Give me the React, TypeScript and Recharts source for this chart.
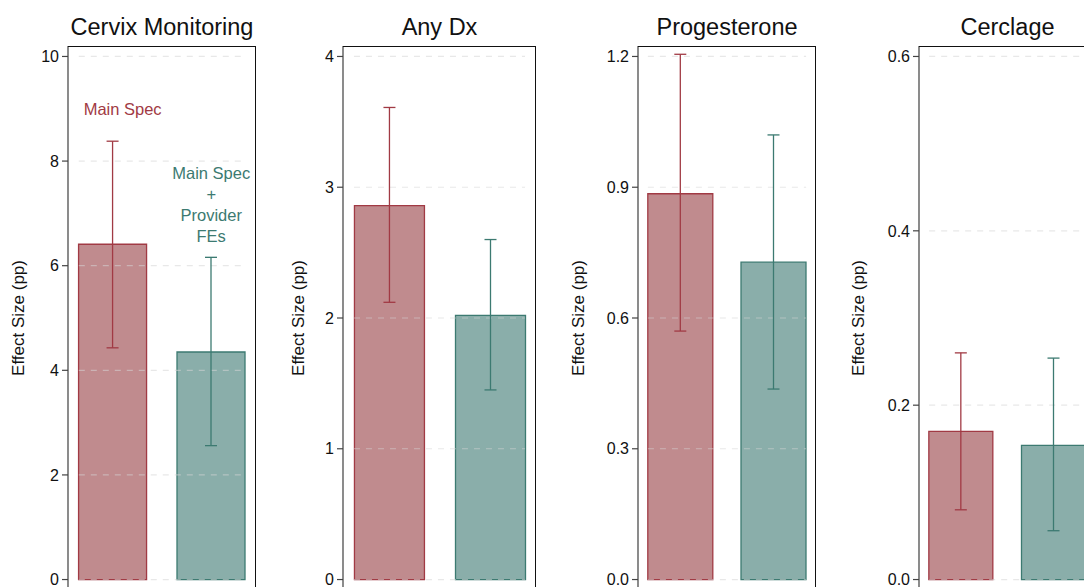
import { BarChart, Bar, XAxis, YAxis, ErrorBar, Cell, ReferenceLine, ReferenceDot } from "recharts";

// outcomes shown left to right
const outcomes = ["Cervix Monitoring", "Any Dx", "Progesterone", "Cerclage"];

// point estimates with 95% CI bounds (pp)
const mainEst = [6.41, 2.86, 0.885, 0.17];
const mainLo = [4.43, 2.12, 0.57, 0.08];
const mainHi = [8.38, 3.61, 1.205, 0.26];
const feEst = [4.35, 2.02, 0.728, 0.154];
const feLo = [2.56, 1.45, 0.437, 0.056];
const feHi = [6.16, 2.6, 1.02, 0.254];

const yTicks = [
  [0, 2, 4, 6, 8, 10],
  [0, 1, 2, 3, 4],
  [0, 0.3, 0.6, 0.9, 1.2],
  [0, 0.2, 0.4, 0.6],
];
const tickDecimals = [0, 0, 1, 1];

// spec labels, only drawn on the first panel
const mainLabel = ["Main Spec"];
const feLabel = ["Main Spec", "+", "Provider", "FEs"];

const RED = "#a13a44";
const RED_FILL = "#c08b8e";
const TEAL = "#3c7a71";
const TEAL_FILL = "#8aaeaa";
const FONT = "'Liberation Sans', Arial, Helvetica, sans-serif";

const W = 280;
const H = 600;
const TOP = 46;
const RIGHT = 24;
const PLOT_H = 544;
const axisWidths = [68, 63, 78, 79];
const X_DOMAIN: [number, number] = [0.545, 2.455];

function specText(lines: string[], color: string) {
  return (p: any) => {
    const vb = p.viewBox || {};
    const cx = (vb.x ?? 0) + (vb.width ?? 0) / 2;
    const cy = (vb.y ?? 0) + (vb.height ?? 0) / 2;
    return (
      <text x={cx} y={cy} textAnchor="middle" fill={color} fontSize={16.5} fontFamily={FONT}>
        {lines.map((l, k) => (
          <tspan key={k} x={cx} dy={k === 0 ? 6 : 20.8}>
            {l}
          </tspan>
        ))}
      </text>
    );
  };
}

function Panel({ i }: { i: number }) {
  const left = axisWidths[i];
  const plotW = W - left - RIGHT;
  const ticks = yTicks[i];
  const max = ticks[ticks.length - 1];
  const pad = max * 0.02;
  const pxPerUnit = plotW / (X_DOMAIN[1] - X_DOMAIN[0]);
  const barSize = Math.round(plotW * 0.363);
  const half = barSize / 2 / pxPerUnit;

  const data = [
    { x: 1, v: mainEst[i], errMain: [mainEst[i] - mainLo[i], mainHi[i] - mainEst[i]] },
    { x: 2, v: feEst[i], errFe: [feEst[i] - feLo[i], feHi[i] - feEst[i]] },
  ];

  return (
    <div style={{ position: "absolute", left: i * W, top: 0, width: W, height: H }}>
      <div
        style={{
          position: "absolute",
          left,
          width: plotW,
          top: 16,
          fontSize: 23.5,
          lineHeight: "23px",
          textAlign: "center",
          color: "#111",
          whiteSpace: "nowrap",
        }}
      >
        {outcomes[i]}
      </div>
      <BarChart width={W} height={H} data={data} margin={{ top: TOP, right: RIGHT, bottom: H - TOP - PLOT_H, left: 0 }}>
        <XAxis type="number" dataKey="x" domain={X_DOMAIN} hide />
        <YAxis
          type="number"
          width={left}
          domain={[-pad, max + pad]}
          ticks={ticks}
          allowDataOverflow
          tickFormatter={(t: number) => t.toFixed(tickDecimals[i])}
          tick={{ fill: "#111", fontSize: 16 }}
          tickSize={6}
          tickMargin={3}
          tickLine={{ stroke: "#444", strokeWidth: 1.2 }}
          axisLine={{ stroke: "#6f6f6f", strokeWidth: 1.6 }}
          label={{
            content: () => (
              <text x={24} y={318} transform="rotate(-90 24 318)" textAnchor="middle" fill="#111" fontSize={17} fontFamily={FONT}>
                Effect Size (pp)
              </text>
            ),
          }}
        />
        {ticks.map((t) => (
          <ReferenceLine
            key={t}
            segment={[{ x: 1 - half, y: t }, { x: 2 + half, y: t }]}
            stroke="#d6d6d6"
            strokeOpacity={0.55}
            strokeWidth={1.2}
            strokeDasharray="6 6"
          />
        ))}
        <Bar dataKey="v" barSize={barSize} strokeWidth={1.3} isAnimationActive={false}>
          <Cell fill={RED_FILL} stroke={RED} />
          <Cell fill={TEAL_FILL} stroke={TEAL} />
          <ErrorBar dataKey="errMain" direction="y" width={6} stroke={RED} strokeWidth={1.3} isAnimationActive={false} />
          <ErrorBar dataKey="errFe" direction="y" width={6} stroke={TEAL} strokeWidth={1.3} isAnimationActive={false} />
        </Bar>
        {i === 0 && (
          <ReferenceDot x={1.1} y={9.0} r={0} fill="none" stroke="none" label={{ content: specText(mainLabel, RED) }} />
        )}
        {i === 0 && (
          <ReferenceDot x={2} y={7.77} r={0} fill="none" stroke="none" label={{ content: specText(feLabel, TEAL) }} />
        )}
      </BarChart>
      <div
        style={{
          position: "absolute",
          left,
          top: TOP,
          width: plotW,
          height: PLOT_H,
          borderTop: "1.3px solid #111",
          borderRight: "1.3px solid #111",
          boxSizing: "border-box",
          pointerEvents: "none",
        }}
      />
    </div>
  );
}

export default function App() {
  return (
    <div
      style={{
        position: "absolute",
        left: 0,
        top: 0,
        width: 1084,
        height: 587,
        overflow: "hidden",
        background: "#fff",
        fontFamily: FONT,
      }}
    >
      {outcomes.map((_, i) => (
        <Panel key={i} i={i} />
      ))}
    </div>
  );
}
